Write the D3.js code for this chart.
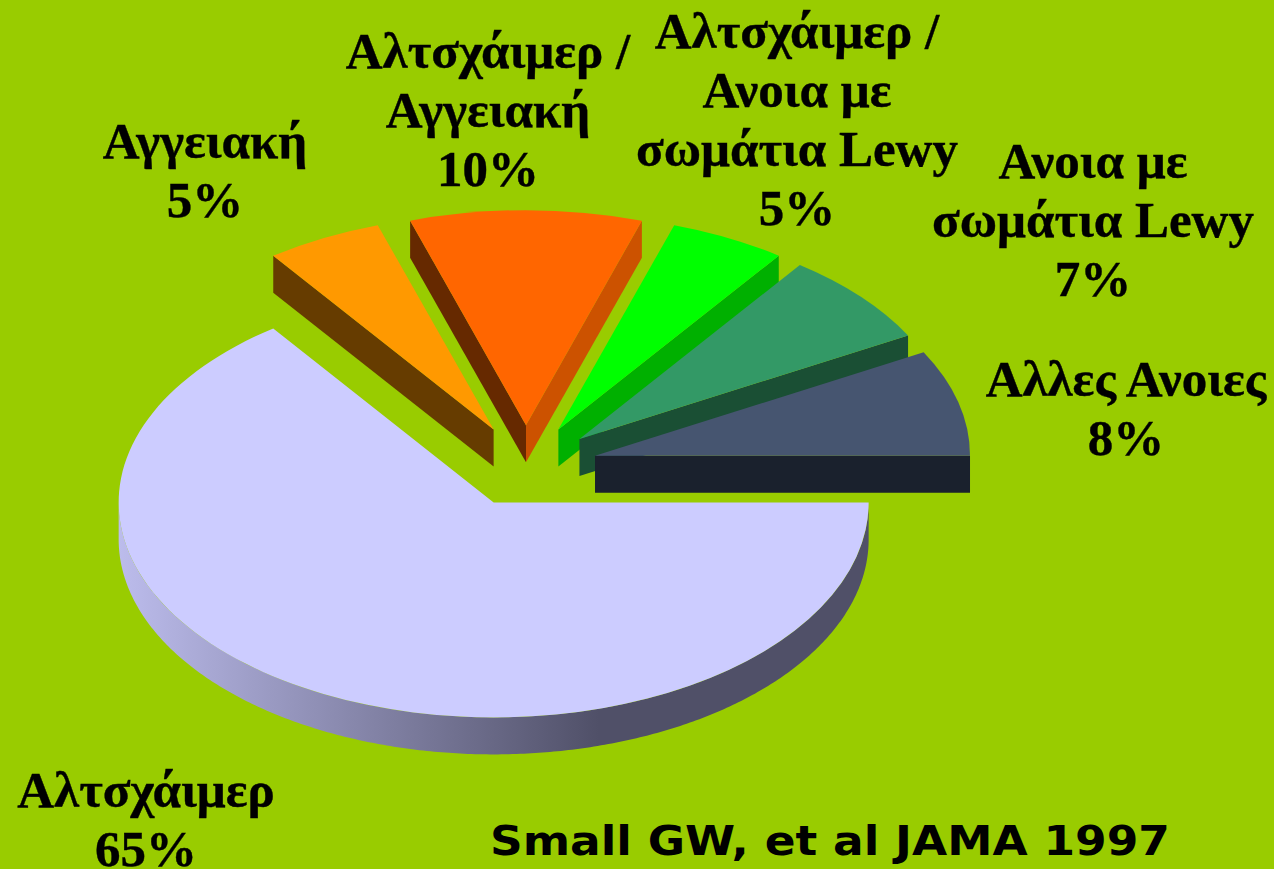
<!DOCTYPE html>
<html>
<head>
<meta charset="utf-8">
<script src="https://cdn.jsdelivr.net/npm/d3@7"></script>
<style>
html, body { margin: 0; padding: 0; background: #99cc00; overflow: hidden; }
svg { display: block; }
.lbl { font-family: "Liberation Serif", serif; font-weight: bold; font-size: 51px; fill: #000; stroke: #000; stroke-width: 0.4px; text-anchor: middle; }
.src { font-family: "DejaVu Sans", sans-serif; font-weight: bold; font-size: 41px; fill: #000; }
</style>
</head>
<body>
<svg id="chart" width="1274" height="869"></svg>
<script>
// values in %, clockwise from 3 o'clock
var categories = ["Αλτσχάιμερ", "Αγγειακή", "Αλτσχάιμερ / Αγγειακή", "Αλτσχάιμερ / Ανοια με σωμάτια Lewy", "Ανοια με σωμάτια Lewy", "Αλλες Ανοιες"]
var values = [65, 5, 10, 5, 7, 8]
var labelLines = [
  ["Αλτσχάιμερ"],
  ["Αγγειακή"],
  ["Αλτσχάιμερ /", "Αγγειακή"],
  ["Αλτσχάιμερ /", "Ανοια με", "σωμάτια Lewy"],
  ["Ανοια με", "σωμάτια Lewy"],
  ["Αλλες Ανοιες"]
]
var sourceText = "Small GW, et al JAMA 1997"

var topColors = ["#ccccff", "#ff9900", "#ff6600", "#00ff00", "#339966", "#465570"]
var startWallColors = ["none", "#663c00", "#662900", "none", "none", "none"]
var endWallColors = ["none", "none", "#cc5200", "#00b000", "#1a4f34", "#1a212d"]
// label centre x / first baseline y
var labelX = [146, 205, 488, 797, 1093, 1126]
var labelY = [807, 158, 68, 48, 178, 396]
var lineHeight = 59

var cx = 526, cy = 466, rx = 375, ry = 215, depth = 37, explode = 0.19

var svg = d3.select("#chart")
svg.append("rect").attr("width", 1274).attr("height", 869).attr("fill", "#99cc00")

var grad = svg.append("defs").append("linearGradient").attr("id", "bigSide")
  .attr("gradientUnits", "userSpaceOnUse")
  .attr("x1", cx - explode * rx * 0.454 - rx).attr("x2", cx - explode * rx * 0.454 + 0.28 * rx).attr("y1", 0).attr("y2", 0)
grad.append("stop").attr("offset", 0).attr("stop-color", "#bcbcec")
grad.append("stop").attr("offset", 1).attr("stop-color", "#505068")

var pie = d3.pie().sort(null).startAngle(Math.PI / 2).endAngle(Math.PI * 2.5)
var slices = pie(values)

// d3 angles start at 12 o'clock
var sx = d3.scaleLinear().domain([-1, 1]).range([-rx, rx])
var sy = d3.scaleLinear().domain([-1, 1]).range([-ry, ry])
function px(a) { return sx(Math.sin(a)) }
function py(a) { return sy(-Math.cos(a)) }

var arc = d3.arc().innerRadius(0).outerRadius(rx)
var line = d3.line()

function wall(o, a) {
  return line([[o[0], o[1]], [o[0] + px(a), o[1] + py(a)], [o[0] + px(a), o[1] + py(a) + depth], [o[0], o[1] + depth]]) + "Z"
}

slices.forEach(function(d, i) {
  var mid = (d.startAngle + d.endAngle) / 2
  var o = [cx + explode * px(mid), cy + explode * py(mid)]
  var g = svg.append("g").attr("class", "slice")

  if (startWallColors[i] != "none") {
    g.append("path").attr("d", wall(o, d.startAngle)).attr("fill", startWallColors[i])
  }
  if (endWallColors[i] != "none") {
    g.append("path").attr("d", wall(o, d.endAngle)).attr("fill", endWallColors[i])
  }
  // only the front half of the rim shows
  if (i == 0) {
    var rim = d3.range(d.startAngle, Math.PI * 1.5 + 0.001, 0.01)
    var pts = rim.map(function(a) { return [o[0] + px(a), o[1] + py(a)] })
    var back = rim.slice().reverse().map(function(a) { return [o[0] + px(a), o[1] + py(a) + depth] })
    g.append("path").attr("d", line(pts.concat(back)) + "Z").attr("fill", "url(#bigSide)")
  }
  g.append("path")
    .attr("d", arc(d))
    .attr("transform", "translate(" + o[0] + "," + o[1] + ") scale(1," + (ry / rx) + ")")
    .attr("fill", topColors[i])
})

labelLines.forEach(function(lines, i) {
  var t = svg.append("text").attr("class", "lbl")
  lines.concat([values[i] + "%"]).forEach(function(s, j) {
    t.append("tspan").attr("x", labelX[i]).attr("y", labelY[i] + j * lineHeight).text(s)
  })
})

svg.append("text").attr("class", "src").attr("x", 490).attr("y", 855)
  .attr("textLength", 680).attr("lengthAdjust", "spacingAndGlyphs").text(sourceText)
</script>
</body>
</html>
